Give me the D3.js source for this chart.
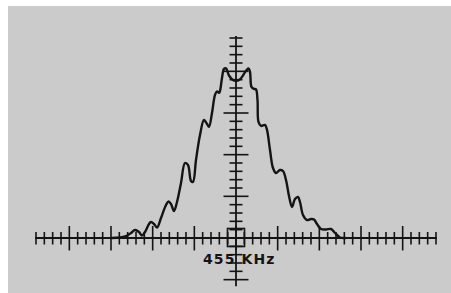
<!DOCTYPE html>
<html>
<head>
<meta charset="utf-8">
<script src="https://cdn.jsdelivr.net/npm/d3@7"></script>
<style>
  html, body { margin: 0; padding: 0; background: #ffffff; }
  svg { display: block; }
</style>
</head>
<body>
<script>
// Frequency offset from centre, in graticule divisions (centre = 455 kHz)
const freqDiv = [-14.9,-13.3,-12.6,-12.12,-11.64,-11.28,-10.92,-10.44,-10.2,-9.84,-9.48,-9.0,-8.4,-8.1,-7.8,-7.44,-7.08,-6.6,-6.12,-5.76,-5.4,-5.16,-4.8,-4.32,-3.84,-3.48,-3.24,-2.88,-2.52,-2.28,-2.04,-1.92,-1.68,-1.44,-1.2,-0.84,-0.42,0,0.42,0.84,1.08,1.32,1.5,1.68,1.86,2.16,2.4,2.58,2.7,3.0,3.48,3.72,4.08,4.44,4.8,5.28,5.64,6.0,6.36,6.72,7.08,7.44,7.68,8.04,8.52,9.0,9.36,9.72,10.2,10.8,11.4,11.88,12.48,13.1];
// Response amplitude, in graticule divisions
const amplitude = [0,0.18,0.6,0.96,0.72,0.3,0.72,1.68,1.92,1.68,1.26,2.4,3.96,4.38,4.08,3.24,4.32,6.6,9.0,8.76,6.84,6.72,9.36,12.36,14.17,13.69,13.33,15.0,17.17,17.59,17.41,17.65,19.21,20.29,20.35,19.5,19.0,18.85,19.0,19.5,19.9,20.2,20.35,19.93,18.13,17.89,17.83,16.57,13.93,13.45,13.57,12.97,10.56,8.4,7.8,8.16,8.04,6.96,5.04,3.72,4.68,4.92,4.32,2.76,2.16,2.28,2.22,1.68,1.08,1.02,1.08,0.6,0.06,0];
// Graticule ticks (divisions)
const xTicks = d3.range(-24, 25);
const yTicks = d3.range(-5, 25);
const centreLabel = "455 KHz";

const W = 451, H = 293;
const svg = d3.select("body").append("svg").attr("width", W).attr("height", H);

svg.append("rect").attr("x", 8).attr("y", 6).attr("width", W - 8).attr("height", H - 6)
  .attr("fill", "#cbcbcb");

const x = d3.scaleLinear().domain([-24, 24]).range([36, 436]);
const y = d3.scaleLinear().domain([0, 24]).range([238, 38]);

const ink = "#141414";
const g = svg.append("g");

// horizontal axis
g.append("line").attr("x1", x(-24) - 1).attr("x2", x(24) + 1)
  .attr("y1", y(0)).attr("y2", y(0)).attr("stroke", ink).attr("stroke-width", 1.8);
g.selectAll("line.xt").data(xTicks).join("line").attr("class", "xt")
  .attr("x1", d => x(d)).attr("x2", d => x(d))
  .attr("y1", d => y(0) - (d % 5 === 0 ? 12 : 6))
  .attr("y2", d => y(0) + (d % 5 === 0 ? 12.5 : 6.5))
  .attr("stroke", ink).attr("stroke-width", 1.6);

// vertical axis
g.append("line").attr("x1", x(0)).attr("x2", x(0))
  .attr("y1", y(24) - 2).attr("y2", y(-5.8))
  .attr("stroke", ink).attr("stroke-width", 1.8);
g.selectAll("line.yt").data(yTicks.filter(d => d !== 0)).join("line").attr("class", "yt")
  .attr("y1", d => y(d)).attr("y2", d => y(d))
  .attr("x1", d => x(0) - (d % 5 === 0 ? 12.5 : 6.5))
  .attr("x2", d => x(0) + (d % 5 === 0 ? 12.5 : 6.5))
  .attr("stroke", ink).attr("stroke-width", 1.6);

// centre box
g.append("rect").attr("x", x(0) - 8.5).attr("y", y(0) - 9.5)
  .attr("width", 17).attr("height", 18)
  .attr("fill", "none").attr("stroke", ink).attr("stroke-width", 1.6);

// response curve
const pts = freqDiv.map((f, i) => [f, amplitude[i]]);
g.append("path").datum(pts)
  .attr("d", d3.line().x(d => x(d[0])).y(d => y(d[1])).curve(d3.curveCatmullRom.alpha(0.5)))
  .attr("fill", "none").attr("stroke", ink).attr("stroke-width", 2.4)
  .attr("stroke-linejoin", "round").attr("stroke-linecap", "round");

// label
g.append("text").attr("x", 203).attr("y", 264)
  .attr("font-family", "DejaVu Sans").attr("font-weight", "bold")
  .attr("font-size", 14).attr("letter-spacing", 1.1)
  .attr("fill", ink).text(centreLabel);
</script>
</body>
</html>
